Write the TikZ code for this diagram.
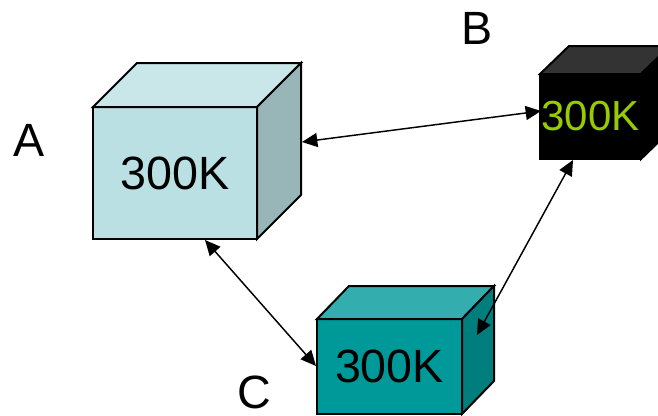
\documentclass[tikz,border=0pt]{standalone}
\usepackage{fontspec}
\setmainfont{Liberation Sans}
\usetikzlibrary{arrows.meta}
\definecolor{aFront}{HTML}{BBE0E3}
\definecolor{aTop}{HTML}{C9E6E8}
\definecolor{aSide}{HTML}{98B6B8}
\definecolor{cFront}{HTML}{009999}
\definecolor{cTop}{HTML}{33ADAD}
\definecolor{cSide}{HTML}{007E7E}
\definecolor{bTop}{HTML}{333333}
\definecolor{bText}{HTML}{99CC00}
\tikzset{
  front/.style={draw=black, line width=1.5pt, rectangle, outer sep=0pt, inner sep=0pt, line join=miter},
  face/.style={draw=black, line width=1.5pt, line join=miter},
  big/.style={font=\fontsize{35pt}{40pt}\selectfont},
  small/.style={font=\fontsize{31.5pt}{36pt}\selectfont},
  lbl/.style={font=\fontsize{35pt}{40pt}\selectfont, inner sep=0pt},
  link/.style={line width=1.1pt, {Triangle[length=11.5pt,width=10.5pt]}-{Triangle[length=11.5pt,width=10.5pt]}}
}
\begin{document}
\begin{tikzpicture}[x=0.75pt,y=-0.75pt]
\useasboundingbox (0,0) rectangle (658,415);
% cube A
\node[front, fill=aFront, minimum width=123pt, minimum height=99pt, big] (A) at (175,173) {300K};
\draw[face, fill=aTop] (A.north west) -- ++(44,-44) -- ++(164,0) -- (A.north east) -- cycle;
\draw[face, fill=aSide] (A.north east) -- ++(44,-44) -- ++(0,132) -- (A.south east) -- cycle;
% cube B
\node[front, fill=black, text=bText, minimum width=75.75pt, minimum height=63.75pt, small] (B) at (590.5,116.5) {300K};
\begin{scope}
\clip (0,0) rectangle (658,415);
\draw[face, fill=bTop] (B.north west) -- ++(29,-28) -- ++(101,0) -- (B.north east) -- cycle;
\draw[face, fill=black] (B.north east) -- ++(29,-28) -- ++(0,85) -- (B.south east) -- cycle;
\end{scope}
% cube C
\node[front, fill=cFront, minimum width=108.75pt, minimum height=71.25pt, big] (C) at (389.5,366.5) {300K};
\draw[face, fill=cTop] (C.north west) -- ++(32,-33) -- ++(145,0) -- (C.north east) -- cycle;
\draw[face, fill=cSide] (C.north east) -- ++(32,-33) -- ++(0,95) -- (C.south east) -- cycle;
% labels
\node[lbl] (la) at (29.5,140) {A};
\node[lbl] (lb) at (477,28.5) {B};
\node[lbl] (lc) at (254,392) {C};
% connector ends
\coordinate (ab1) at (302,142);
\coordinate (ab2) at (541,111);
\coordinate (ac1) at (205,240);
\coordinate (ac2) at (316,366);
\coordinate (bc1) at (573,160);
\coordinate (bc2) at (477,335);
\draw[link] (ab1) -- (ab2);
\draw[link] (ac1) -- (ac2);
\draw[link] (bc1) -- (bc2);
\end{tikzpicture}
\end{document}
